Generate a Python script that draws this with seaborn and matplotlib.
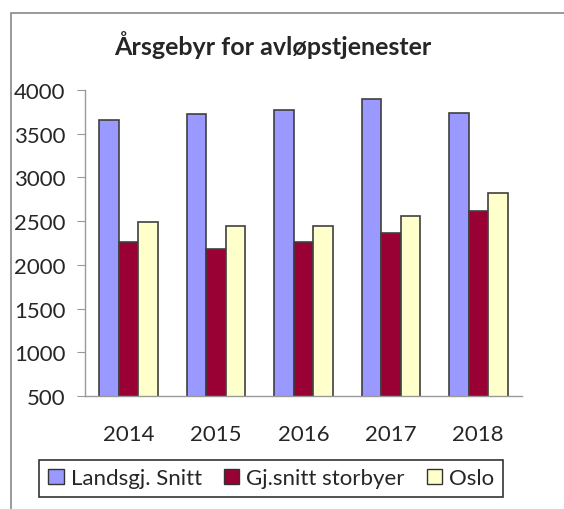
import numpy as np
import pandas as pd
import matplotlib
matplotlib.use("Agg")
import matplotlib.pyplot as plt
from matplotlib.patches import Rectangle
import seaborn as sns

years = ["2014", "2015", "2016", "2017", "2018"]
series = ["Landsgj. Snitt", "Gj.snitt storbyer", "Oslo"]
landsgj = [3660, 3720, 3770, 3900, 3740]
storbyer = [2265, 2180, 2265, 2365, 2620]
oslo = [2490, 2440, 2440, 2555, 2820]
colors = ["#9999FF", "#990033", "#FFFFCC"]

df = pd.DataFrame({
    "year": years * 3,
    "serie": [s for s in series for _ in years],
    "value": landsgj + storbyer + oslo,
})

sns.set_style("white")
plt.rcParams["font.family"] = ["Lato", "DejaVu Sans"]

fig = plt.figure(figsize=(5.64, 5.10), dpi=100)
ax = fig.add_axes([85 / 564, 1 - 397 / 510, 437 / 564, 306 / 510])

sns.barplot(data=df, x="year", y="value", hue="serie", palette=colors,
            width=0.67, edgecolor="#404040", linewidth=1.2, ax=ax,
            saturation=1, legend=False)

ax.set_ylim(500, 4000)
ax.set_xlim(-0.5, 4.5)
ax.set_yticks(np.arange(500, 4001, 500))
ax.set_xlabel("")
ax.set_ylabel("")
for s in ["top", "right"]:
    ax.spines[s].set_visible(False)
for s in ["left", "bottom"]:
    ax.spines[s].set_color("#999999")
    ax.spines[s].set_linewidth(1)
ax.set_xticks(np.arange(-0.5, 5, 1), minor=True)
ax.tick_params(axis="x", which="major", length=0, pad=20, labelsize=16)
ax.tick_params(axis="x", which="minor", length=6, color="#999999", direction="out")
ax.tick_params(axis="y", length=6, color="#999999", direction="out", labelsize=16, pad=8, left=True)

fig.text(0.483, 0.912, "Årsgebyr for avløpstjenester", ha="center", va="center",
         fontsize=18, fontweight="bold")

handles = [Rectangle((0, 0), 1, 1, facecolor=c, edgecolor="#333333") for c in colors]
leg = fig.legend(handles, series, loc="center", bbox_to_anchor=(0.481, 0.06), ncol=3,
                 fontsize=16, frameon=True, fancybox=False, handlelength=0.7,
                 handleheight=0.7, handletextpad=0.3, columnspacing=1.0,
                 borderpad=0.4)
leg.get_frame().set_edgecolor("black")
leg.get_frame().set_linewidth(1.2)

fig.patches.append(Rectangle((11 / 564, -0.1), 1.2, 1 - 14 / 510 + 0.1,
                             transform=fig.transFigure, fill=False,
                             edgecolor="#888888", linewidth=1.2))

fig.savefig("out.png", dpi=100)
